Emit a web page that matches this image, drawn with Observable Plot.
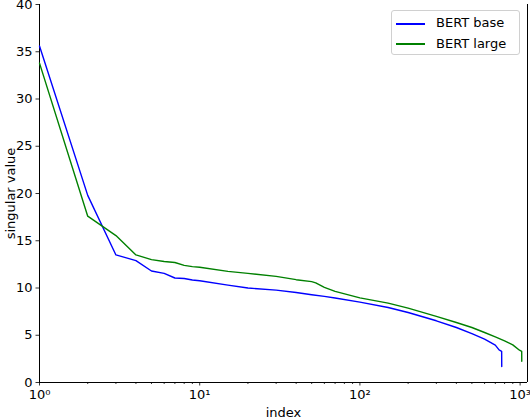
<!DOCTYPE html>
<html>
<head>
<meta charset="utf-8">
<script src="https://cdn.jsdelivr.net/npm/d3@7"></script>
<script src="https://cdn.jsdelivr.net/npm/@observablehq/plot@0.6"></script>
<style>
  body { margin: 0; background: #fff; font-family: "DejaVu Sans", sans-serif; }
  #wrap { position: relative; width: 530px; height: 418px; overflow: hidden; }
  #legend { position: absolute; left: 391px; top: 10px; width: 127px; height: 43px;
    border: 1px solid #d0d0d0; border-radius: 3px; background: rgba(255,255,255,0.8);
    font-size: 13px; color: #000; }
  .row { position: absolute; left: 0; height: 16px; }
  .sw { position: absolute; left: 4px; width: 29px; height: 2px; top: 7.5px; }
  .lab { position: absolute; left: 44px; top: 0; white-space: nowrap; line-height: 16px; }
</style>
</head>
<body>
<div id="wrap">
  <div id="chart"></div>
  <div id="legend"></div>
</div>
<script>
const seriesNames = ["BERT base", "BERT large"];
const seriesColors = ["#0000ff", "#008000"];

const baseIdx = [1, 2, 3, 4, 5, 6, 7, 8, 9, 10, 15, 20, 30, 40, 50, 60, 70, 100, 150, 200, 300, 400, 500, 600, 700, 739, 767, 768];
const baseVal = [35.6, 19.8, 13.5, 12.9, 11.8, 11.55, 11.06, 11.0, 10.85, 10.77, 10.3, 10.0, 9.78, 9.53, 9.29, 9.11, 8.94, 8.5, 7.94, 7.41, 6.53, 5.82, 5.18, 4.58, 3.95, 3.45, 3.3, 1.7];

const largeIdx = [1, 2, 3, 4, 5, 6, 7, 8, 9, 10, 15, 20, 30, 40, 50, 53, 60, 70, 100, 150, 200, 300, 400, 500, 600, 700, 800, 900, 991, 1023, 1024];
const largeVal = [33.8, 17.6, 15.55, 13.5, 13.0, 12.8, 12.7, 12.4, 12.26, 12.19, 11.76, 11.55, 11.23, 10.88, 10.67, 10.55, 10.07, 9.64, 8.95, 8.4, 7.87, 6.99, 6.35, 5.82, 5.29, 4.83, 4.4, 3.98, 3.42, 3.3, 2.25];

const xMajor = [1, 10, 100, 1000];
const xMajorLabels = ["10\u2070", "10\u00b9", "10\u00b2", "10\u00b3"];
const xMinor = [2,3,4,5,6,7,8,9,20,30,40,50,60,70,80,90,200,300,400,500,600,700,800,900];
const yTicks = [0, 5, 10, 15, 20, 25, 30, 35, 40];

const data = [
  ...baseIdx.map((x, i) => ({x, y: baseVal[i], s: seriesNames[0]})),
  ...largeIdx.map((x, i) => ({x, y: largeVal[i], s: seriesNames[1]}))
];

const chart = Plot.plot({
  width: 530,
  height: 418,
  marginLeft: 39,
  marginRight: 3,
  marginTop: 4,
  marginBottom: 36,
  style: { fontFamily: "DejaVu Sans, sans-serif", fontSize: "13px", color: "#000", background: "#fff", overflow: "visible" },
  x: { type: "log", domain: [1, 1112] },
  y: { domain: [0, 40] },
  color: { domain: seriesNames, range: seriesColors },
  marks: [
    Plot.axisX({ticks: xMinor, tickSize: 2, tickFormat: () => "", strokeWidth: 0.8, label: null}),
    Plot.axisX({ticks: xMajor, tickSize: 3.5, tickPadding: 3.5, strokeWidth: 0.8,
      tickFormat: (d) => xMajorLabels[xMajor.indexOf(d)], fontSize: 13,
      label: "index", labelAnchor: "center", labelArrow: "none", labelOffset: 34}),
    Plot.axisY({ticks: yTicks, tickSize: 3.5, tickPadding: 3.5, strokeWidth: 0.8, fontSize: 13,
      label: "singular value", labelAnchor: "center", labelArrow: "none", labelOffset: 34}),
    Plot.ruleX([1], {stroke: "#000", strokeWidth: 1}),
    Plot.ruleX([1112], {stroke: "#000", strokeWidth: 1}),
    Plot.ruleY([0], {stroke: "#000", strokeWidth: 1}),
    Plot.line(data, {x: "x", y: "y", z: "s", stroke: "s", strokeWidth: 1.4})
  ]
});
document.getElementById("chart").appendChild(chart);

const legend = document.getElementById("legend");
seriesNames.forEach((name, i) => {
  const row = document.createElement("div");
  row.className = "row";
  row.style.top = (4 + i * 20.5) + "px";
  row.style.width = "125px";
  row.innerHTML = `<div class="sw" style="background:${seriesColors[i]}"></div><div class="lab">${name}</div>`;
  legend.appendChild(row);
});
</script>
</body>
</html>
